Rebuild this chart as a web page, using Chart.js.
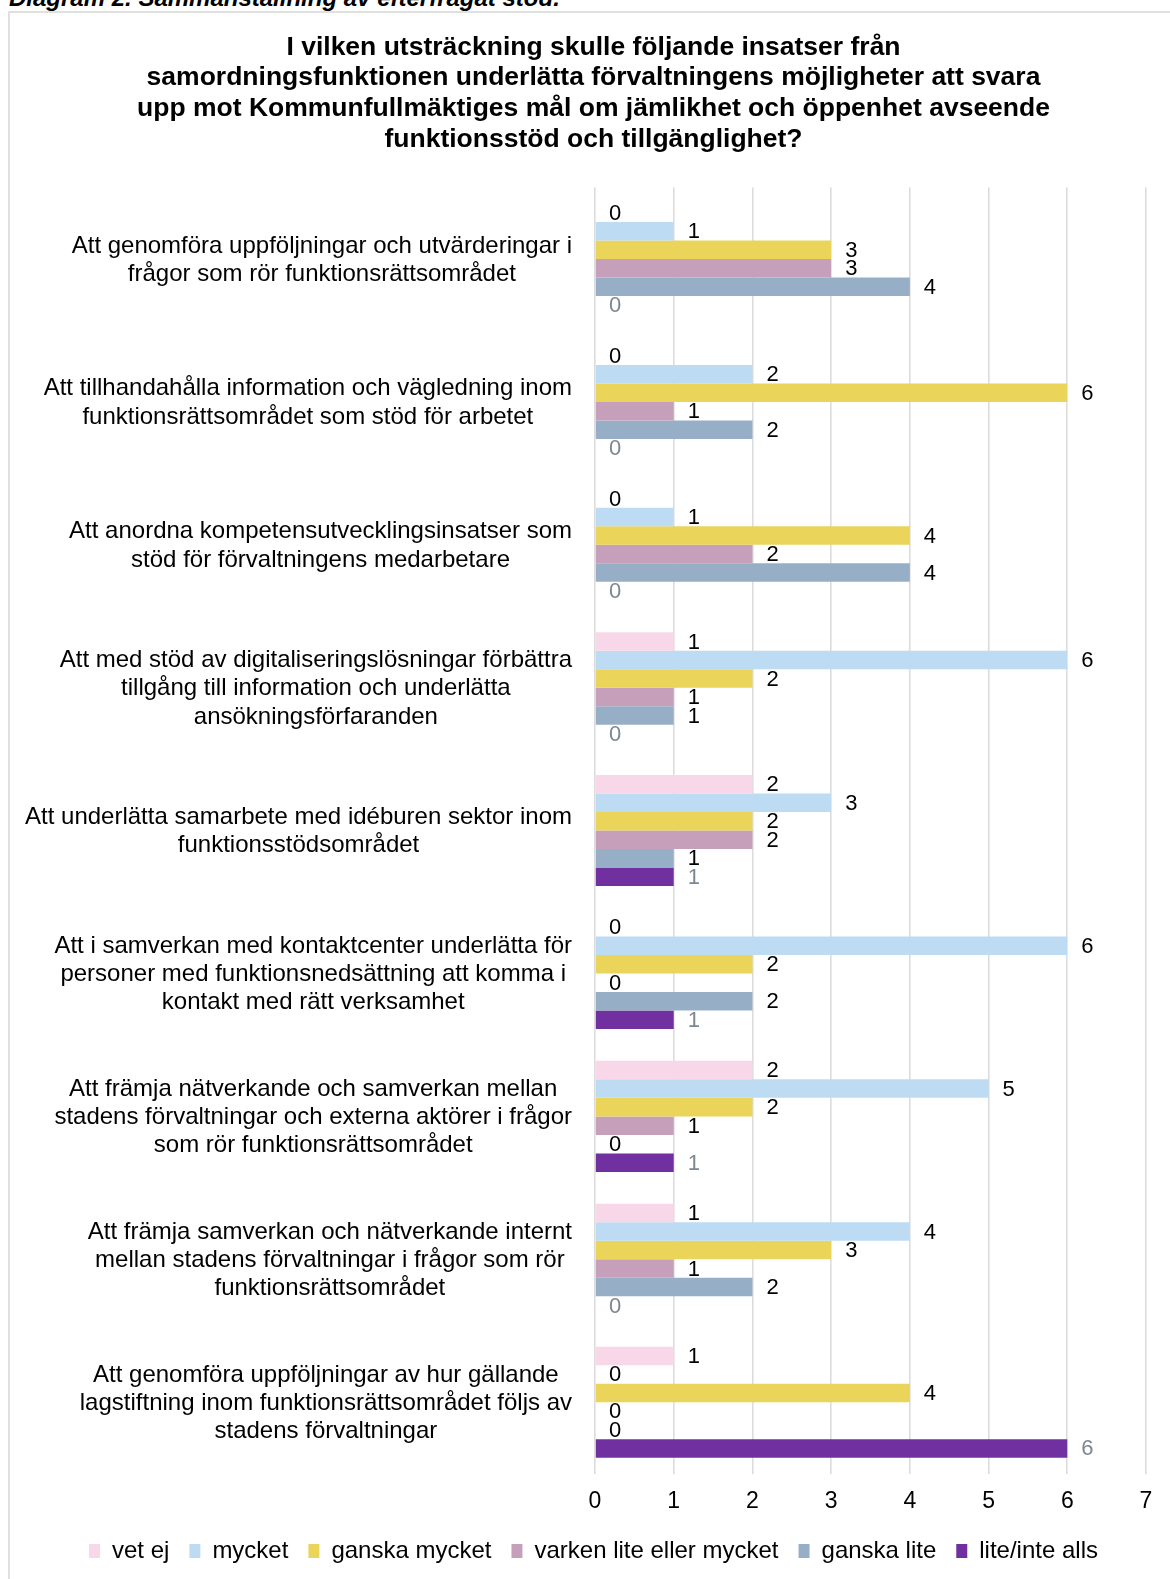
<!DOCTYPE html>
<html>
<head>
<meta charset="utf-8">
<script src="https://cdn.jsdelivr.net/npm/chart.js@4.4.1/dist/chart.umd.min.js"></script>
<style>
    body { margin: 0; background: #fff; }
    .caption {
        position: absolute; left: 9px; top: -16px; white-space: nowrap;
        font: italic bold 24px "Liberation Sans", Arial, sans-serif; color: #000;
    }
    .frame {
        position: absolute; left: 8px; top: 11px; width: 1200px; height: 1600px;
        border-left: 2px solid #e0e0e0; border-top: 2px solid #e0e0e0;
    }
    #wrap { position: absolute; left: 0; top: 0; width: 1170px; height: 1579px; }
</style>
</head>
<body>
<div class="caption">Diagram 2. Sammanställning av efterfrågat stöd.</div>
<div class="frame"></div>
<div id="wrap"><canvas id="chart"></canvas></div>
<script>
const titleLines = [
    'I vilken utsträckning skulle följande insatser från',
    'samordningsfunktionen underlätta förvaltningens möjligheter att svara',
    'upp mot Kommunfullmäktiges mål om jämlikhet och öppenhet avseende',
    'funktionsstöd och tillgänglighet?'
];

const categories = [
    ['Att genomföra uppföljningar och utvärderingar i', 'frågor som rör funktionsrättsområdet'],
    ['Att tillhandahålla information och vägledning inom', 'funktionsrättsområdet som stöd för arbetet'],
    ['Att anordna kompetensutvecklingsinsatser som', 'stöd för förvaltningens medarbetare'],
    ['Att med stöd av digitaliseringslösningar förbättra', 'tillgång till information och underlätta', 'ansökningsförfaranden'],
    ['Att underlätta samarbete med idéburen sektor inom', 'funktionsstödsområdet'],
    ['Att i samverkan med kontaktcenter underlätta för', 'personer med funktionsnedsättning att komma i', 'kontakt med rätt verksamhet'],
    ['Att främja nätverkande och samverkan mellan', 'stadens förvaltningar och externa aktörer i frågor', 'som rör funktionsrättsområdet'],
    ['Att främja samverkan och nätverkande internt', 'mellan stadens förvaltningar i frågor som rör', 'funktionsrättsområdet'],
    ['Att genomföra uppföljningar av hur gällande', 'lagstiftning inom funktionsrättsområdet följs av', 'stadens förvaltningar']
];

const seriesNames = ['vet ej', 'mycket', 'ganska mycket', 'varken lite eller mycket', 'ganska lite', 'lite/inte alls'];
const vetEj        = [0, 0, 0, 1, 2, 0, 2, 1, 1];
const mycket       = [1, 2, 1, 6, 3, 6, 5, 4, 0];
const ganskaMycket = [3, 6, 4, 2, 2, 2, 2, 3, 4];
const varken       = [3, 1, 2, 1, 2, 0, 1, 1, 0];
const ganskaLite   = [4, 2, 4, 1, 1, 2, 0, 2, 0];
const liteInte     = [0, 0, 0, 0, 1, 1, 1, 0, 6];
const xTicks = [0, 1, 2, 3, 4, 5, 6, 7];

const colors = ['#f8d8e8', '#bddcf4', '#ead55a', '#c6a0bb', '#97afc6', '#7030a0'];
const labelColors = ['#000', '#000', '#000', '#000', '#000', '#7d8793'];
const font = '"Liberation Sans", Arial, sans-serif';

const seriesValues = [vetEj, mycket, ganskaMycket, varken, ganskaLite, liteInte];

// value labels at the end of each bar
const barLabels = {
    id: 'barLabels',
    afterDatasetsDraw(chart) {
        const ctx = chart.ctx;
        ctx.save();
        ctx.font = '22px ' + font;
        ctx.textAlign = 'left';
        ctx.textBaseline = 'middle';
        chart.data.datasets.forEach((ds, i) => {
            const meta = chart.getDatasetMeta(i);
            ctx.fillStyle = labelColors[i];
            meta.data.forEach((bar, j) => {
                ctx.fillText(String(ds.data[j]), bar.x + 14, bar.y + 1);
            });
        });
        ctx.restore();
    }
};

// category labels: each block right-aligned to the axis, lines centred within the block
const categoryLabels = {
    id: 'categoryLabels',
    afterDraw(chart) {
        const ctx = chart.ctx;
        const yScale = chart.scales.y;
        const right = chart.chartArea.left - 23;
        const lineH = 28.2;
        ctx.save();
        ctx.font = '24px ' + font;
        ctx.fillStyle = '#000';
        ctx.textAlign = 'center';
        ctx.textBaseline = 'middle';
        categories.forEach((lines, i) => {
            const y = yScale.getPixelForTick(i);
            const widest = Math.max(...lines.map(l => ctx.measureText(l).width));
            const cx = right - widest / 2;
            lines.forEach((line, k) => {
                ctx.fillText(line, cx, y + (k - (lines.length - 1) / 2) * lineH + 1);
            });
        });
        ctx.restore();
    }
};

new Chart(document.getElementById('chart'), {
    type: 'bar',
    data: {
        labels: categories,
        datasets: seriesNames.map((name, i) => ({
            label: name,
            data: seriesValues[i],
            backgroundColor: colors[i],
            borderWidth: 0,
            categoryPercentage: 0.777,
            barPercentage: 1
        }))
    },
    options: {
        indexAxis: 'y',
        responsive: true,
        maintainAspectRatio: false,
        animation: false,
        layout: { padding: { left: 41, right: 24, top: 0, bottom: 6 } },
        plugins: {
            title: {
                display: true,
                text: titleLines,
                color: '#000',
                font: { family: font, size: 26.5, weight: 'bold', lineHeight: 30.9 / 26.5 },
                padding: { top: 31.8, bottom: 32.2 }
            },
            legend: {
                position: 'bottom',
                labels: {
                    color: '#000',
                    font: { family: font, size: 24 },
                    boxWidth: 11,
                    boxHeight: 14,
                    padding: 20
                }
            },
            tooltip: { enabled: false }
        },
        scales: {
            x: {
                min: 0,
                max: 7,
                afterBuildTicks(scale) { scale.ticks = xTicks.map(v => ({ value: v })); },
                afterFit(scale) { scale.height = 45.4; },
                grid: { color: '#dcdcdc', lineWidth: 1.6, drawTicks: false },
                border: { display: false },
                ticks: { color: '#000', font: { family: font, size: 23 }, padding: 14 }
            },
            y: {
                afterFit(scale) { scale.width = 554; },
                grid: { display: false },
                border: { display: false },
                ticks: { display: false, autoSkip: false }
            }
        }
    },
    plugins: [barLabels, categoryLabels]
});
</script>
</body>
</html>
